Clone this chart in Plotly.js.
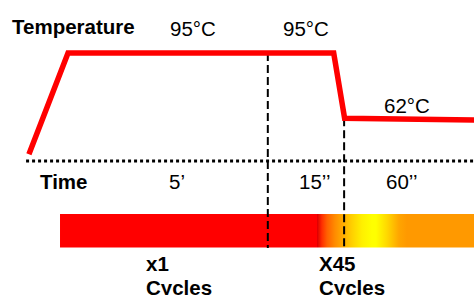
<!DOCTYPE html>
<html><head><meta charset="utf-8">
<script src="https://cdn.plot.ly/plotly-3.0.1.min.js"></script>
<style>html,body{margin:0;padding:0;background:#fff}#chart{width:474px;height:295px}</style>
</head><body><div id="chart"></div>
<script>
// Temperature profile (schematic time units 0-100, temperature in °C)
const profileTime = [6.1, 14.35, 70.4, 72.7, 101];
const profileTemp = [44, 95, 95, 62.1, 61.2];
// Time axis baseline
const baselineTime = [5.5, 101];
const baselineTemp = [40.6, 40.6];
// Step boundaries (dashed verticals)
const stepBoundaryTime = [56.5, 72.6];
const stepBoundaryTop = [95, 62.1];
const stepBoundaryBottom = -3.2;
// Cycle bar
const barStart = 12.66, barEnd = 100, barTop = 13.9, barBottom = -3;
const gradStops = [12.66, 66.88, 66.98, 67.93, 68.99, 70.68, 72.57, 74.26, 76.37, 78.48, 79.32, 81.65, 84.18, 85.86, 100];
const gradColors = ['#FF0000','#FF0000','#E00000','#FF3000','#FF6000','#FF8C00','#FFB000','#FFD000','#FFF000','#FFFF00','#FFFF00','#FFD800','#FFA500','#FF9900','#FF9900'];
// Labels
const tempLabels = ['95°C', '95°C', '62°C'];
const tempLabelX = [40.8, 64.5, 85.8];
const tempLabelY = [107.1, 107.1, 68.8];
const timeLabels = ['5’', '15’’', '60’’'];
const timeLabelX = [37.4, 66.4, 84.8];
const timeLabelY = 30.5;
const cycleCounts = ['x1', 'X45'];
const cycleLabelX = [30.4, 66.9];
const cycleCountY = -10.8;
const cycleWordY = -22.9;

const FONT = '"Liberation Sans", Arial, sans-serif';
const FS = 20.5;

const traces = [];
const span = barEnd - barStart;
traces.push({
  type: 'scatter', mode: 'lines',
  x: [barStart, barEnd, barEnd, barStart, barStart],
  y: [barTop, barTop, barBottom, barBottom, barTop],
  fill: 'toself', line: {width: 0, color: 'rgba(0,0,0,0)'},
  fillgradient: {type: 'horizontal', colorscale: gradStops.map((s, i) => [(s - barStart) / span, gradColors[i]])},
  hoverinfo: 'skip'
});
stepBoundaryTime.forEach((t, i) => {
  traces.push({type: 'scatter', mode: 'lines', x: [t, t], y: [stepBoundaryTop[i], stepBoundaryBottom],
    line: {color: '#000', width: 2, dash: '8px,4px'}, hoverinfo: 'skip'});
});
traces.push({type: 'scatter', mode: 'lines', x: baselineTime, y: baselineTemp,
  line: {color: '#000', width: 3, dash: '3px,3px'}, hoverinfo: 'skip'});
traces.push({type: 'scatter', mode: 'lines', x: profileTime, y: profileTemp,
  line: {color: '#FF0000', width: 5.5}, hoverinfo: 'skip'});

const ann = [];
const mk = (text, x, y, xanchor, bold) => ({text: bold ? '<b>' + text + '</b>' : text, x, y, xref: 'x', yref: 'y',
  xanchor: xanchor, yanchor: 'middle', showarrow: false, font: {family: FONT, size: FS, color: '#000'}});
ann.push(mk('Temperature', 15.6, 108.6, 'center', true));
tempLabels.forEach((t, i) => ann.push(mk(t, tempLabelX[i], tempLabelY[i], 'center', false)));
ann.push(mk('Time', 13.5, timeLabelY, 'center', true));
timeLabels.forEach((t, i) => ann.push(mk(t, timeLabelX[i], timeLabelY, 'center', false)));
cycleCounts.forEach((t, i) => {
  ann.push(mk(t, cycleLabelX[i], cycleCountY, 'left', true));
  ann.push(mk('Cycles', cycleLabelX[i], cycleWordY, 'left', true));
});

Plotly.newPlot('chart', traces, {
  width: 474, height: 295, margin: {l: 0, r: 0, t: 0, b: 0, pad: 0},
  paper_bgcolor: '#fff', plot_bgcolor: '#fff', showlegend: false,
  xaxis: {range: [0, 100], visible: false, fixedrange: true},
  yaxis: {range: [-26.9, 121.7], visible: false, fixedrange: true},
  annotations: ann
}, {staticPlot: true, displayModeBar: false});
</script></body></html>
